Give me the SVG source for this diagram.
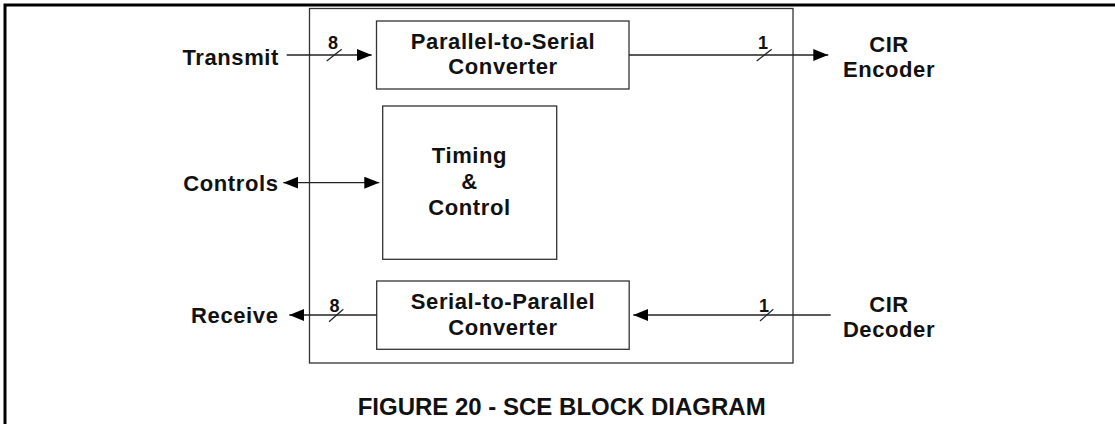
<svg xmlns="http://www.w3.org/2000/svg" width="1115" height="424" viewBox="0 0 1115 424">
<style>
.t{font-family:"Liberation Sans",Arial,sans-serif;font-weight:bold;font-size:22px;fill:#111;letter-spacing:0.6px}
.n{font-family:"Liberation Sans",Arial,sans-serif;font-weight:bold;font-size:18px;fill:#111}
.cap{font-family:"Liberation Sans",Arial,sans-serif;font-weight:bold;font-size:24px;fill:#111}
.box{fill:none;stroke:#333;stroke-width:1.3}
.ln{stroke:#222;stroke-width:1.3;fill:none}
.sl{stroke:#222;stroke-width:1.2}
</style>
<defs>
<marker id="ah" viewBox="0 0 15 12" refX="15" refY="6" markerWidth="15" markerHeight="12" markerUnits="userSpaceOnUse" orient="auto-start-reverse">
<path d="M0,0 L15,6 L0,12 Z" fill="#000"/>
</marker>
</defs>
<rect width="1115" height="424" fill="#fff"/>
<g id="frame">
<path d="M5,424 V5 H1115" fill="none" stroke="#000" stroke-width="3"/>
</g>
<g id="sce">
<rect class="box" x="309.5" y="8.5" width="483.5" height="354.5" stroke="#111"/>
</g>
<g id="p2s">
<rect class="box" x="376.5" y="21" width="252.5" height="68"/>
<text class="t" x="503" y="49" text-anchor="middle">Parallel-to-Serial</text>
<text class="t" x="503" y="73.5" text-anchor="middle">Converter</text>
</g>
<g id="timing">
<rect class="box" x="382.7" y="106" width="174" height="153.3"/>
<text class="t" x="469.5" y="163.3" text-anchor="middle">Timing</text>
<text class="t" x="469.5" y="189.3" text-anchor="middle">&amp;</text>
<text class="t" x="469.5" y="215" text-anchor="middle">Control</text>
</g>
<g id="s2p">
<rect class="box" x="376.7" y="281" width="252.5" height="68.3"/>
<text class="t" x="503" y="309.3" text-anchor="middle">Serial-to-Parallel</text>
<text class="t" x="503" y="335" text-anchor="middle">Converter</text>
</g>
<g id="transmit"><text class="t" x="279" y="65" text-anchor="end">Transmit</text></g>
<g id="controls"><text class="t" x="278.5" y="190.7" text-anchor="end">Controls</text></g>
<g id="receive"><text class="t" x="278.5" y="323.3" text-anchor="end">Receive</text></g>
<g id="encoder">
<text class="t" x="889" y="51.7" text-anchor="middle">CIR</text>
<text class="t" x="889" y="77.3" text-anchor="middle">Encoder</text>
</g>
<g id="decoder">
<text class="t" x="889" y="311.7" text-anchor="middle">CIR</text>
<text class="t" x="889" y="337.3" text-anchor="middle">Decoder</text>
</g>
<g id="connectors">
<line class="ln" x1="286.7" y1="55" x2="371.7" y2="55" marker-end="url(#ah)"/>
<line class="sl" x1="326.7" y1="61" x2="341.7" y2="49.3"/>
<text class="n" x="333" y="49" text-anchor="middle">8</text>
<line class="ln" x1="629" y1="55" x2="828.3" y2="55" marker-end="url(#ah)"/>
<line class="sl" x1="756.7" y1="61" x2="771.7" y2="49.3"/>
<text class="n" x="763" y="49" text-anchor="middle">1</text>
<line class="ln" x1="283.3" y1="182.7" x2="379.3" y2="182.7" marker-start="url(#ah)" marker-end="url(#ah)"/>
<line class="ln" x1="376.7" y1="315" x2="289.3" y2="315" marker-end="url(#ah)"/>
<line class="sl" x1="329" y1="321.7" x2="343.3" y2="309.3"/>
<text class="n" x="334.5" y="311.7" text-anchor="middle">8</text>
<line class="ln" x1="830.7" y1="315" x2="633.3" y2="315" marker-end="url(#ah)"/>
<line class="sl" x1="760" y1="321" x2="773.3" y2="309.3"/>
<text class="n" x="764" y="311.7" text-anchor="middle">1</text>
</g>
<g id="caption"><text class="cap" x="561.7" y="415" text-anchor="middle">FIGURE 20 - SCE BLOCK DIAGRAM</text></g>
</svg>
